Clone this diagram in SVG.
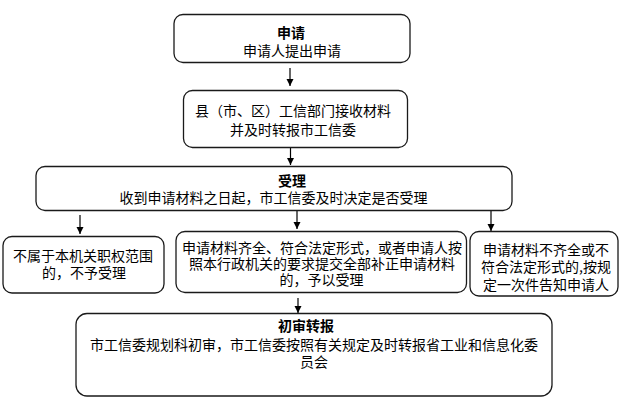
<svg xmlns="http://www.w3.org/2000/svg" width="622" height="403" viewBox="0 0 622 403">
<style>
.box{fill:#fff;stroke:#1a1a1a;stroke-width:1.3}
.t{font-family:"Noto Sans CJK SC","Liberation Sans",sans-serif;font-size:14px;fill:#000;text-anchor:middle;dominant-baseline:central}
.b{font-weight:bold}
.c{stroke:#000;stroke-width:1.2;fill:none;marker-end:url(#ah)}
</style>
<defs>
<marker id="ah" markerUnits="userSpaceOnUse" markerWidth="8" markerHeight="8" refX="7" refY="3.5" orient="auto">
<path d="M0,0 L7,3.5 L0,7 z" fill="#000"/>
</marker>
</defs>
<rect width="622" height="403" fill="#fff"/>
<g id="connectors">
<line class="c" x1="290" y1="68" x2="290" y2="86"/>
<line class="c" x1="290.5" y1="148" x2="290.5" y2="165"/>
<line class="c" x1="80" y1="215" x2="80" y2="234"/>
<line class="c" x1="297" y1="211" x2="297" y2="229"/>
<line class="c" x1="491" y1="211" x2="491" y2="231"/>
<line class="c" x1="298" y1="298" x2="298" y2="313"/>
</g>
<g id="n1">
<rect class="box" x="174" y="14.5" width="236" height="48" rx="9"/>
<text class="t b" x="291" y="32">申请</text>
<text class="t" x="292" y="50">申请人提出申请</text>
</g>
<g id="n2">
<rect class="box" x="183.5" y="90.5" width="224" height="57" rx="9"/>
<text class="t" x="293" y="110">县（市、区）工信部门接收材料</text>
<text class="t" x="293" y="128.5">并及时转报市工信委</text>
</g>
<g id="n3">
<rect class="box" x="36" y="166.5" width="476" height="44" rx="9"/>
<text class="t b" x="292" y="179.5">受理</text>
<text class="t" x="273.5" y="196.5">收到申请材料之日起，市工信委及时决定是否受理</text>
</g>
<g id="n4">
<rect class="box" x="3" y="236.5" width="161" height="56.5" rx="9"/>
<text class="t" x="83" y="254.5">不属于本机关职权范围</text>
<text class="t" x="84" y="271.5">的，不予受理</text>
</g>
<g id="n5">
<rect class="box" x="176" y="231.5" width="290.5" height="61" rx="9"/>
<text class="t" x="322" y="246.5">申请材料齐全、符合法定形式，或者申请人按</text>
<text class="t" x="322" y="262.5">照本行政机关的要求提交全部补正申请材料</text>
<text class="t" x="321.5" y="278.5">的，予以受理</text>
</g>
<g id="n6">
<rect class="box" x="470" y="231.5" width="148" height="64.5" rx="9"/>
<text class="t" x="546" y="248.5">申请材料不齐全或不</text>
<text class="t" x="546" y="266">符合法定形式的,按规</text>
<text class="t" x="546" y="284">定一次件告知申请人</text>
</g>
<g id="n7">
<rect class="box" x="76" y="313.5" width="476" height="82.5" rx="11"/>
<text class="t b" x="306" y="325">初审转报</text>
<text class="t" x="314" y="343.5">市工信委规划科初审，市工信委按照有关规定及时转报省工业和信息化委</text>
<text class="t" x="314" y="361">员会</text>
</g>
</svg>
